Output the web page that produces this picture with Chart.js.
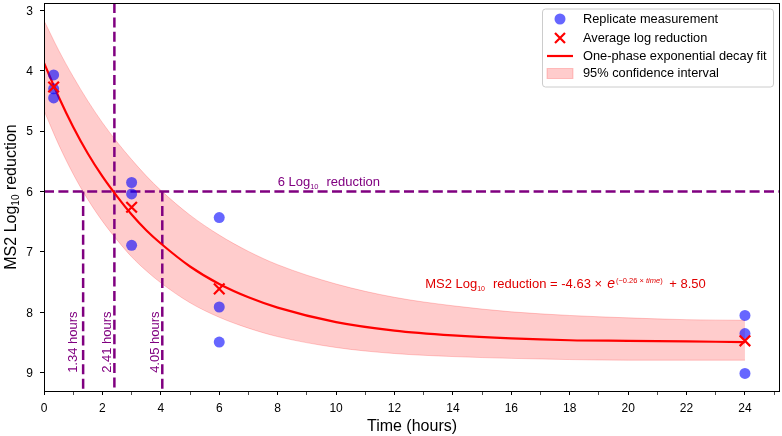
<!DOCTYPE html>
<html>
<head>
<meta charset="utf-8">
<script src="https://cdn.jsdelivr.net/npm/chart.js@4.4.1/dist/chart.umd.min.js"></script>
<style>
  html, body { margin: 0; padding: 0; background: #fff; }
  #chart { display: block; }
</style>
</head>
<body>
<canvas id="chart" width="782" height="436"></canvas>
<script>
// measured replicates and their averages
const replicateTimes = [0.33, 0.33, 0.33, 3, 3, 3, 6, 6, 6, 24, 24, 24];
const replicateValues = [4.07, 4.30, 4.45, 5.85, 6.04, 6.89, 6.43, 7.91, 8.49, 8.05, 8.35, 9.01];
const avgTimes = [0.33, 3, 6, 24];
const avgValues = [4.27, 6.26, 7.61, 8.47];

// fitted curve and 95% band
const fitTimes = [0, 0.5, 1, 1.5, 2, 2.5, 3, 3.5, 4, 5, 6, 7, 8, 10, 12, 14, 16, 18, 20, 22, 24];
const fitValues = [3.87, 4.43, 4.93, 5.37, 5.75, 6.08, 6.38, 6.64, 6.86, 7.24, 7.53, 7.75, 7.92, 8.16, 8.30, 8.38, 8.43, 8.46, 8.47, 8.48, 8.49];
const ciLow = [3.17, 3.66, 4.10, 4.50, 4.86, 5.18, 5.47, 5.74, 5.98, 6.39, 6.72, 6.99, 7.21, 7.53, 7.75, 7.89, 7.99, 8.05, 8.09, 8.12, 8.13];
const ciHigh = [4.66, 5.22, 5.71, 6.13, 6.49, 6.80, 7.08, 7.31, 7.51, 7.84, 8.08, 8.26, 8.40, 8.58, 8.68, 8.73, 8.76, 8.78, 8.79, 8.79, 8.79];

// 6 log threshold and the times it is reached
const thresholdValue = 6;
const crossTimes = [1.34, 2.41, 4.05];
const crossLabels = ['1.34 hours', '2.41 hours', '4.05 hours'];

const xTickValues = [0, 1, 2, 3, 4, 5, 6, 7, 8, 9, 10, 11, 12, 13, 14, 15, 16, 17, 18, 19, 20, 21, 22, 23, 24, 25];
const xTickLabels = [0, 2, 4, 6, 8, 10, 12, 14, 16, 18, 20, 22, 24];
const yTickValues = [3, 4, 5, 6, 7, 8, 9];
const xRange = [0, 25.2];
const yRange = [2.88, 9.3];

const FONT = "'Liberation Sans', Arial, sans-serif";
const PURPLE = '#800080';

const pts = (xs, ys) => xs.map((x, i) => ({ x, y: ys[i] }));

function fontOf(p) {
  return (p.italic ? 'italic ' : '') + p.size + 'px ' + FONT;
}

function richWidth(ctx, parts) {
  let w = 0;
  parts.forEach(p => {
    ctx.font = fontOf(p);
    w += (p.gap || 0) + ctx.measureText(p.text).width;
  });
  return w;
}

function drawRich(ctx, parts, x, y, align) {
  let cx = align === 'center' ? x - richWidth(ctx, parts) / 2 : x;
  parts.forEach(p => {
    ctx.font = fontOf(p);
    cx += p.gap || 0;
    ctx.fillText(p.text, cx, y + (p.dy || 0));
    cx += ctx.measureText(p.text).width;
  });
}

function drawCross(ctx, x, y, h) {
  ctx.beginPath();
  ctx.moveTo(x - h, y - h); ctx.lineTo(x + h, y + h);
  ctx.moveTo(x - h, y + h); ctx.lineTo(x + h, y - h);
  ctx.stroke();
}

const decorPlugin = {
  id: 'decor',
  afterDraw(chart) {
    const { ctx, chartArea: a } = chart;
    const xs = chart.scales.x, ys = chart.scales.y;
    ctx.save();

    // frame
    ctx.strokeStyle = '#000';
    ctx.lineWidth = 1;
    ctx.strokeRect(a.left + 0.5, a.top + 0.5, a.right - a.left - 1, a.bottom - a.top);

    // tick labels
    ctx.fillStyle = '#000';
    ctx.font = '12px ' + FONT;
    ctx.textBaseline = 'alphabetic';
    ctx.textAlign = 'center';
    xTickLabels.forEach(v => ctx.fillText(String(v), xs.getPixelForValue(v), a.bottom + 20.5));
    ctx.textAlign = 'right';
    yTickValues.forEach(v => ctx.fillText(String(v), a.left - 11, ys.getPixelForValue(v) + 4.3));

    ctx.textAlign = 'left';

    // threshold label
    ctx.fillStyle = PURPLE;
    drawRich(ctx, [
      { text: '6 Log', size: 13 },
      { text: '10', size: 7.5, dy: 3 },
      { text: 'reduction', size: 13, gap: 8 }
    ], xs.getPixelForValue(8), ys.getPixelForValue(5.9), 'left');

    // equation
    ctx.fillStyle = '#e00000';
    drawRich(ctx, [
      { text: 'MS2 Log', size: 13 },
      { text: '10', size: 7, dy: 3 },
      { text: 'reduction = -4.63 × ', size: 13, gap: 8 },
      { text: 'e', size: 14, italic: true, gap: 1.5 },
      { text: '(−0.26 × ', size: 7.5, dy: -5.5, gap: 1 },
      { text: 'time', size: 7.5, dy: -5.5, italic: true },
      { text: ')', size: 7.5, dy: -5.5 },
      { text: ' + 8.50', size: 13, gap: 3 }
    ], xs.getPixelForValue(13.05), ys.getPixelForValue(7.6), 'left');

    // vertical hour labels
    const offsets = [-10, -6.5, -7];
    ctx.fillStyle = PURPLE;
    ctx.font = '13px ' + FONT;
    ctx.textBaseline = 'middle';
    crossTimes.forEach((t, i) => {
      ctx.save();
      ctx.translate(xs.getPixelForValue(t) + offsets[i], ys.getPixelForValue(9.0));
      ctx.rotate(-Math.PI / 2);
      ctx.fillText(crossLabels[i], 0, 0);
      ctx.restore();
    });

    // axis titles
    ctx.fillStyle = '#000';
    ctx.textBaseline = 'alphabetic';
    ctx.font = '16px ' + FONT;
    ctx.textAlign = 'center';
    ctx.fillText('Time (hours)', (a.left + a.right) / 2, 431);
    ctx.textAlign = 'left';
    ctx.save();
    ctx.translate(15.5, (a.top + a.bottom) / 2);
    ctx.rotate(-Math.PI / 2);
    drawRich(ctx, [
      { text: 'MS2 Log', size: 16 },
      { text: '10', size: 10, dy: 3 },
      { text: ' reduction', size: 16 }
    ], 0, 0, 'center');
    ctx.restore();

    // legend
    const lx = 542, ly = 8.5, lw = 231, lh = 78;
    ctx.beginPath();
    ctx.roundRect(lx + 0.5, ly + 0.5, lw, lh, 3);
    ctx.fillStyle = 'rgba(255,255,255,0.8)';
    ctx.fill();
    ctx.strokeStyle = '#cccccc';
    ctx.lineWidth = 1;
    ctx.stroke();

    const rows = [19, 38, 56, 73.5];
    const mx = 560;
    ctx.fillStyle = 'rgba(0,0,255,0.6)';
    ctx.beginPath();
    ctx.arc(mx, rows[0], 5.5, 0, Math.PI * 2);
    ctx.fill();

    ctx.strokeStyle = 'red';
    ctx.lineWidth = 2.2;
    drawCross(ctx, mx, rows[1], 5);

    ctx.beginPath();
    ctx.moveTo(547, rows[2]); ctx.lineTo(573, rows[2]);
    ctx.stroke();

    ctx.fillStyle = 'rgba(255,0,0,0.2)';
    ctx.strokeStyle = 'rgba(255,0,0,0.2)';
    ctx.lineWidth = 1;
    ctx.fillRect(547, rows[3] - 5, 26, 10);
    ctx.strokeRect(547, rows[3] - 5, 26, 10);

    const legendText = ['Replicate measurement', 'Average log reduction', 'One-phase exponential decay fit', '95% confidence interval'];
    ctx.fillStyle = '#000';
    ctx.font = '12.8px ' + FONT;
    ctx.textBaseline = 'middle';
    legendText.forEach((s, i) => ctx.fillText(s, 583, rows[i]));

    ctx.restore();
  }
};

Chart.defaults.font.family = FONT;
Chart.defaults.color = '#000';

const dashed = { borderColor: PURPLE, borderWidth: 2.5, borderDash: [10, 4.4], pointRadius: 0, fill: false, order: 3 };

new Chart(document.getElementById('chart'), {
  type: 'line',
  data: {
    datasets: [
      {
        label: 'Average log reduction',
        data: pts(avgTimes, avgValues),
        showLine: false,
        pointStyle: 'crossRot',
        pointRadius: 7.5,
        pointBorderWidth: 2.2,
        pointBorderColor: 'red',
        pointBackgroundColor: 'red',
        order: 0
      },
      {
        label: 'Replicate measurement',
        data: pts(replicateTimes, replicateValues),
        showLine: false,
        pointRadius: 5.5,
        pointBorderWidth: 0,
        pointBackgroundColor: 'rgba(0,0,255,0.6)',
        pointBorderColor: 'rgba(0,0,255,0)',
        order: 1
      },
      {
        label: 'One-phase exponential decay fit',
        data: pts(fitTimes, fitValues),
        borderColor: 'red',
        borderWidth: 2.2,
        pointRadius: 0,
        cubicInterpolationMode: 'monotone',
        fill: false,
        order: 2
      },
      Object.assign({ data: pts(xRange, [thresholdValue, thresholdValue]) }, dashed),
      Object.assign({ data: pts([crossTimes[0], crossTimes[0]], [thresholdValue, yRange[1]]) }, dashed),
      Object.assign({ data: pts([crossTimes[1], crossTimes[1]], yRange) }, dashed),
      Object.assign({ data: pts([crossTimes[2], crossTimes[2]], [thresholdValue, yRange[1]]) }, dashed),
      {
        label: '95% confidence interval',
        data: pts(fitTimes, ciLow),
        borderColor: 'rgba(255,0,0,0.2)',
        borderWidth: 1,
        backgroundColor: 'rgba(255,0,0,0.2)',
        pointRadius: 0,
        cubicInterpolationMode: 'monotone',
        fill: '+1',
        order: 4
      },
      {
        data: pts(fitTimes, ciHigh),
        borderColor: 'rgba(255,0,0,0.2)',
        borderWidth: 1,
        pointRadius: 0,
        cubicInterpolationMode: 'monotone',
        fill: false,
        order: 5
      }
    ]
  },
  options: {
    responsive: false,
    animation: false,
    devicePixelRatio: 1,
    layout: { autoPadding: false, padding: { top: 3, right: 2, left: 0, bottom: 0 } },
    plugins: { legend: { display: false }, tooltip: { enabled: false } },
    scales: {
      x: {
        type: 'linear',
        min: xRange[0],
        max: xRange[1],
        bounds: 'data',
        afterBuildTicks: s => { s.ticks = xTickValues.map(v => ({ value: v })); },
        afterFit: s => { s.height = 45; },
        border: { display: false },
        grid: {
          drawOnChartArea: false,
          tickLength: 4,
          tickColor: '#000',
          tickWidth: c => (c.tick && c.tick.value % 2 === 0 ? 1 : 0.7)
        },
        ticks: { display: false }
      },
      y: {
        type: 'linear',
        reverse: true,
        min: yRange[0],
        max: yRange[1],
        bounds: 'data',
        afterBuildTicks: s => { s.ticks = yTickValues.map(v => ({ value: v })); },
        afterFit: s => { s.width = 44; },
        border: { display: false },
        grid: { drawOnChartArea: false, tickLength: 4, tickColor: '#000', tickWidth: 1 },
        ticks: { display: false }
      }
    }
  },
  plugins: [decorPlugin]
});
</script>
</body>
</html>
